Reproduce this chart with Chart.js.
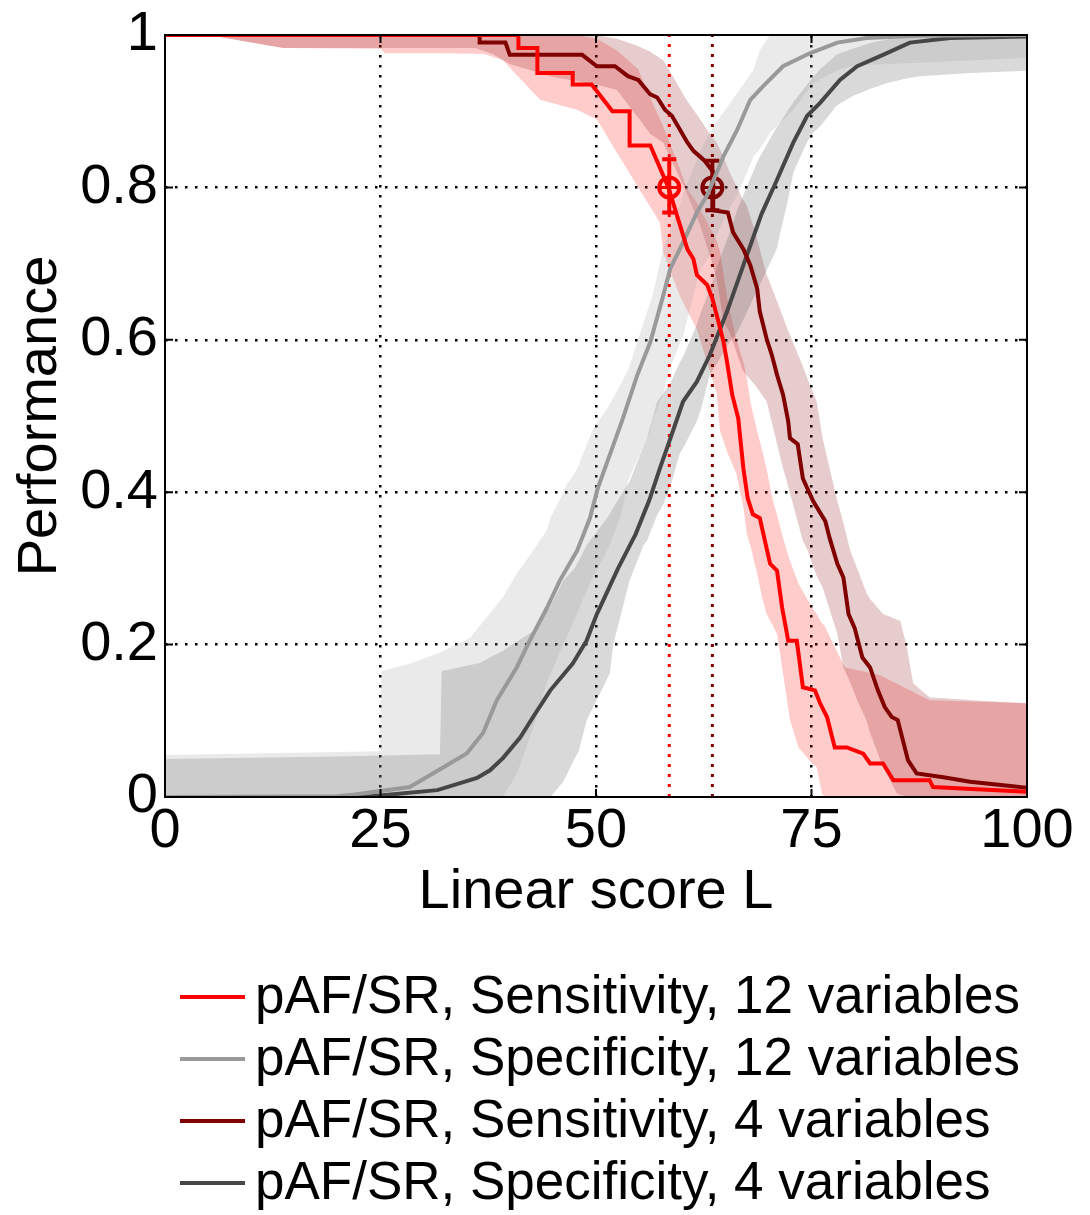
<!DOCTYPE html>
<html>
<head>
<meta charset="utf-8">
<script src="https://cdn.jsdelivr.net/npm/chart.js@4.4.0/dist/chart.umd.min.js"></script>
<style>
    html, body { margin: 0; padding: 0; background: #fff; }
</style>
</head>
<body>
<canvas id="graficoDesempenho" width="1090" height="1215"></canvas>
<script>
const xTicks = [0, 25, 50, 75, 100]
const xTickLabels = ['0', '25', '50', '75', '100']
const yTicks = [0, 0.2, 0.4, 0.6, 0.8, 1]
const yTickLabels = ['0', '0.2', '0.4', '0.6', '0.8', '1']

const legendas = [
    'pAF/SR, Sensitivity, 12 variables',
    'pAF/SR, Specificity, 12 variables',
    'pAF/SR, Sensitivity, 4 variables',
    'pAF/SR, Specificity, 4 variables'
]

// curvas [L, desempenho]
const sens12 = [[0,1],[41,1],[41,0.983],[43.2,0.983],[43.2,0.95],[47.3,0.95],[47.3,0.935],[49.5,0.935],[51.9,0.9],[53.9,0.9],[53.9,0.855],[56.3,0.855],[58.4,0.80],[59.4,0.763],[60.6,0.719],[61.3,0.706],[61.7,0.685],[62.9,0.672],[63.5,0.654],[64.2,0.624],[64.8,0.597],[65.2,0.571],[65.8,0.528],[66.5,0.497],[67.1,0.431],[67.6,0.392],[68.2,0.371],[69.0,0.366],[70.2,0.306],[71.0,0.297],[71.6,0.248],[72.3,0.205],[73.3,0.205],[74.0,0.144],[75.4,0.140],[76.0,0.123],[76.8,0.105],[77.7,0.065],[79.1,0.065],[81.0,0.057],[81.8,0.044],[83.3,0.044],[84.5,0.022],[88.7,0.022],[89.1,0.013],[100,0.007]]
const spec12 = [[0,0],[20,0.001],[21.8,0.003],[28.4,0.013],[32.3,0.039],[35.0,0.057],[36.9,0.084],[38.5,0.127],[40.8,0.170],[42.3,0.205],[44.3,0.248],[45.8,0.284],[47.8,0.323],[49.3,0.366],[50.2,0.405],[53.0,0.493],[54.8,0.554],[56.3,0.597],[57.8,0.658],[58.6,0.693],[60.1,0.728],[61.7,0.767],[62.9,0.79],[64.8,0.841],[66.4,0.876],[67.9,0.915],[69.4,0.933],[71.7,0.959],[74.8,0.976],[78.0,0.99],[81.4,0.996],[87.2,0.999],[100,1]]
const sens4 = [[0,1],[36.5,1],[36.5,0.99],[39.5,0.99],[40,0.974],[48.4,0.974],[50.1,0.959],[52.2,0.959],[53.7,0.946],[54.9,0.941],[56.3,0.922],[57.1,0.918],[58.0,0.902],[58.8,0.894],[60.6,0.859],[61.3,0.848],[62.6,0.835],[63.6,0.82],[63.6,0.770],[65.3,0.767],[65.9,0.741],[67.1,0.719],[67.9,0.698],[68.7,0.667],[69.0,0.637],[69.8,0.601],[70.4,0.580],[71.0,0.554],[71.7,0.528],[72.3,0.493],[72.5,0.471],[73.4,0.463],[74.0,0.418],[75.2,0.388],[76.6,0.362],[77.1,0.340],[78.0,0.306],[78.7,0.288],[79.3,0.240],[80.0,0.222],[80.9,0.183],[81.8,0.170],[82.7,0.140],[83.5,0.118],[84.3,0.105],[85.0,0.101],[86.2,0.048],[87.2,0.031],[90.3,0.026],[93.4,0.020],[100,0.012]]
const spec4 = [[0,0],[23,0],[31.6,0.009],[36.2,0.025],[37.7,0.035],[39.2,0.051],[41.2,0.078],[42.7,0.105],[44.7,0.14],[47.3,0.175],[48.9,0.205],[50.1,0.240],[52.6,0.301],[54.6,0.345],[56.2,0.39],[57.4,0.431],[58.4,0.463],[60.1,0.519],[61.7,0.545],[63.2,0.58],[65.2,0.637],[67.1,0.698],[69.2,0.765],[71.0,0.81],[72.9,0.859],[74.5,0.894],[76.0,0.911],[78.3,0.941],[80.3,0.959],[83.3,0.974],[86.4,0.99],[91.1,0.996],[100,0.998]]

// faixas [L, inferior, superior]
const sens12Banda = [[0,1,1],[5,1,1],[13.7,0.983,1],[25,0.982,1],[25.5,0.976,1],[32.3,0.976,1],[37,0.975,1],[39.2,0.967,1],[43.5,0.915,1],[47.8,0.902,1],[50.1,0.889,0.995],[52.4,0.846,0.98],[54.9,0.8,0.955],[56,0.78,0.925],[57.4,0.754,0.89],[57.8,0.715,0.88],[59.7,0.658,0.825],[60.5,0.64,0.8],[61.7,0.614,0.78],[64,0.53,0.73],[64.4,0.48,0.715],[65.3,0.45,0.65],[66.3,0.424,0.6],[67.1,0.38,0.571],[67.5,0.345,0.55],[67.9,0.33,0.519],[68.7,0.293,0.48],[69.3,0.26,0.454],[69.8,0.24,0.43],[70.5,0.225,0.39],[71,0.214,0.37],[71.7,0.162,0.34],[72.5,0.101,0.31],[73.5,0.065,0.28],[75,0.045,0.25],[75.6,0.039,0.24],[76.2,0.005,0.228],[76.5,0,0.225],[78,0,0.19],[78.9,0,0.17],[82.9,0,0.16],[88.7,0,0.127],[100,0,0.123]]
const sens4Banda = [[0,1,1],[5,1,1],[13.7,0.983,1],[36,0.983,1],[38,0.975,1],[40,0.962,1],[45,0.945,1],[50,0.935,1],[52.4,0.928,0.995],[54.3,0.9,0.988],[55,0.89,0.985],[56.3,0.87,0.978],[57.8,0.859,0.967],[60.5,0.793,0.915],[62.1,0.75,0.889],[63.2,0.711,0.87],[64,0.68,0.859],[64.8,0.624,0.84],[65.5,0.61,0.82],[67,0.56,0.785],[67.5,0.553,0.776],[68.5,0.54,0.74],[69.8,0.519,0.685],[70,0.51,0.68],[71.7,0.431,0.63],[72,0.42,0.62],[74,0.336,0.565],[74.5,0.325,0.55],[75.6,0.29,0.519],[76.3,0.275,0.47],[78,0.214,0.388],[78.7,0.17,0.36],[79.5,0.15,0.323],[80.3,0.127,0.3],[81.4,0.1,0.267],[81.8,0.084,0.26],[83.3,0.039,0.24],[84.9,0.005,0.233],[85.3,0.003,0.231],[86,0,0.2],[86.8,0,0.149],[88.7,0,0.131],[93.7,0,0.127],[100,0,0.123]]
const spec12Banda = [[0,0,0.055],[10,0,0.057],[20,0,0.059],[24.9,0,0.06],[25.1,0,0.165],[28.4,0,0.175],[32,0,0.19],[35.4,0,0.209],[38.9,0,0.258],[39.2,0,0.262],[40.8,0.03,0.293],[42.7,0.09,0.323],[44.3,0.15,0.35],[44.7,0.16,0.366],[45.8,0.19,0.39],[46.6,0.21,0.41],[47.8,0.24,0.43],[48.5,0.26,0.45],[49.7,0.29,0.484],[51.3,0.323,0.51],[52.8,0.366,0.54],[53.7,0.414,0.56],[54.3,0.43,0.58],[56.3,0.48,0.65],[56.5,0.493,0.655],[57.8,0.53,0.72],[58.3,0.554,0.735],[59.8,0.597,0.78],[60,0.6,0.79],[61.3,0.658,0.825],[62,0.69,0.845],[63.2,0.71,0.872],[63.6,0.728,0.88],[65.2,0.767,0.905],[66.4,0.79,0.924],[68.3,0.841,0.955],[69,0.85,0.98],[69.9,0.866,0.995],[70.2,0.872,1],[72.9,0.902,1],[75.2,0.937,1],[78.3,0.955,1],[80,0.96,1],[90,0.965,1],[100,0.97,1]]
const spec4Banda = [[0,0,0.05],[20,0,0.053],[31.9,0,0.056],[32.1,0,0.165],[36.5,0,0.176],[39.2,0,0.192],[42.7,0,0.218],[44.7,0,0.25],[46.2,0.02,0.284],[47.5,0.05,0.3],[48,0.06,0.31],[48.9,0.1,0.33],[51.6,0.162,0.371],[52,0.2,0.38],[53.9,0.284,0.414],[55.5,0.33,0.46],[55.9,0.336,0.47],[57.1,0.37,0.519],[57.8,0.384,0.53],[58.7,0.41,0.545],[59.7,0.45,0.57],[60.2,0.46,0.58],[61.7,0.493,0.62],[62.2,0.51,0.637],[63.2,0.554,0.665],[64.1,0.57,0.698],[65.5,0.597,0.74],[66.4,0.61,0.771],[68.7,0.665,0.833],[69,0.672,0.84],[71,0.72,0.88],[71.3,0.737,0.884],[72.2,0.78,0.9],[72.9,0.82,0.912],[74.5,0.86,0.935],[75.2,0.872,0.945],[76,0.88,0.955],[77.9,0.907,0.974],[78.3,0.91,0.976],[79.8,0.92,0.982],[82,0.93,0.99],[83.8,0.937,0.994],[86,0.943,0.998],[87.6,0.946,1],[93.4,0.95,1],[100,0.953,1]]

// pontos de operacao (sensibilidade 0.8) com barras de erro
const pontoL = [58.5, 63.5]
const pontoY = [0.8, 0.8]
const pontoErroMin = [0.767, 0.770]
const pontoErroMax = [0.837, 0.835]

const corVermelho = '#ff0000'
const corCinza = '#999999'
const corVinho = '#800000'
const corCinzaEscuro = '#464646'
const coresLinhas = [corVermelho, corCinza, corVinho, corCinzaEscuro]

const fonte = '"Liberation Sans", Arial, sans-serif'

function pontos(lista, col) {
    return lista.map(function (p) { return { x: p[0], y: p[col] } })
}

function curva(lista, cor) {
    return {
        data: pontos(lista, 1),
        borderColor: cor,
        borderWidth: 4,
        pointRadius: 0,
        fill: false,
        order: 0
    }
}

function banda(lista, cor) {
    return [
        { data: pontos(lista, 1), borderWidth: 0, borderColor: 'rgba(0,0,0,0)', pointRadius: 0, fill: false, order: 2 },
        { data: pontos(lista, 2), borderWidth: 0, borderColor: 'rgba(0,0,0,0)', pointRadius: 0, fill: '-1', backgroundColor: cor, order: 2 }
    ]
}

let datasets = [
    curva(sens12, corVermelho),
    curva(spec12, corCinza),
    curva(sens4, corVinho),
    curva(spec4, corCinzaEscuro)
]
datasets = datasets.concat(banda(spec12Banda, 'rgba(150,150,150,0.2)'))
datasets = datasets.concat(banda(spec4Banda, 'rgba(64,64,64,0.2)'))
datasets = datasets.concat(banda(sens4Banda, 'rgba(128,0,0,0.2)'))
datasets = datasets.concat(banda(sens12Banda, 'rgba(255,0,0,0.2)'))

const coresPonto = [corVermelho, corVinho]
for (let i = 0; i < pontoL.length; i++) {
    // linha pontilhada vertical
    datasets.push({
        data: [{ x: pontoL[i], y: 0 }, { x: pontoL[i], y: 1 }],
        borderColor: coresPonto[i], borderWidth: 3, borderDash: [3, 7],
        pointRadius: 0, fill: false, order: 1
    })
    // barra de erro
    datasets.push({
        data: [{ x: pontoL[i], y: pontoErroMin[i] }, { x: pontoL[i], y: pontoErroMax[i] }],
        borderColor: coresPonto[i], borderWidth: 4,
        pointStyle: 'line', pointRadius: 7, pointBorderWidth: 4, pointBorderColor: coresPonto[i],
        fill: false, order: 0
    })
    // circulo com cruz
    datasets.push({
        data: [{ x: pontoL[i], y: pontoY[i] }],
        showLine: false, pointStyle: 'circle', pointRadius: 10, pointBorderWidth: 4,
        pointBorderColor: coresPonto[i], pointBackgroundColor: 'rgba(0,0,0,0)', order: 0
    })
    datasets.push({
        data: [{ x: pontoL[i], y: pontoY[i] }],
        showLine: false, pointStyle: 'cross', pointRadius: 10, pointBorderWidth: 3,
        pointBorderColor: coresPonto[i], order: 0
    })
}

// moldura preta com marcas de escala para dentro
const moldura = {
    id: 'moldura',
    afterDatasetsDraw(chart) {
        const ctx = chart.ctx
        const a = chart.chartArea
        const sx = chart.scales.x
        const sy = chart.scales.y
        ctx.save()
        ctx.strokeStyle = '#000'
        ctx.lineWidth = 2
        ctx.strokeRect(a.left, a.top, a.right - a.left, a.bottom - a.top)
        ctx.beginPath()
        xTicks.forEach(function (v) {
            const px = sx.getPixelForValue(v)
            ctx.moveTo(px, a.bottom); ctx.lineTo(px, a.bottom - 8)
            ctx.moveTo(px, a.top); ctx.lineTo(px, a.top + 8)
        })
        yTicks.forEach(function (v) {
            const py = sy.getPixelForValue(v)
            ctx.moveTo(a.left, py); ctx.lineTo(a.left + 8, py)
            ctx.moveTo(a.right, py); ctx.lineTo(a.right - 8, py)
        })
        ctx.stroke()
        ctx.restore()
    }
}

// legenda em coluna
const legendaColuna = {
    id: 'legendaColuna',
    afterDraw(chart) {
        const ctx = chart.ctx
        ctx.save()
        ctx.font = '53px ' + fonte
        ctx.textBaseline = 'middle'
        ctx.textAlign = 'left'
        for (let i = 0; i < legendas.length; i++) {
            const y = 997 + i * 62
            ctx.strokeStyle = coresLinhas[i]
            ctx.lineWidth = 4
            ctx.beginPath()
            ctx.moveTo(180, y)
            ctx.lineTo(245, y)
            ctx.stroke()
            ctx.fillStyle = '#000'
            ctx.fillText(legendas[i], 255, y + 1)
        }
        ctx.restore()
    }
}

function corGrade(lista) {
    return function (c) {
        if (!c.tick) return 'rgba(0,0,0,0)'
        const v = c.tick.value
        if (v === lista[0] || v === lista[lista.length - 1]) return 'rgba(0,0,0,0)'
        return '#000'
    }
}

new Chart(document.getElementById('graficoDesempenho'), {
    type: 'line',
    data: { datasets: datasets },
    options: {
        responsive: false,
        animation: false,
        events: [],
        devicePixelRatio: 1,
        layout: { padding: { top: 32, right: 63, bottom: 289, left: 0 } },
        plugins: {
            legend: { display: false },
            tooltip: { enabled: false }
        },
        scales: {
            x: {
                type: 'linear',
                min: 0,
                max: 100,
                afterBuildTicks: function (s) { s.ticks = xTicks.map(function (v) { return { value: v } }) },
                afterFit: function (s) { s.height = 129 },
                ticks: {
                    color: '#000', font: { size: 56, family: fonte, lineHeight: 1 }, padding: 7, maxRotation: 0, autoSkip: false,
                    callback: function (v, i) { return xTickLabels[i] }
                },
                grid: { color: corGrade(xTicks), lineWidth: 2.5, drawTicks: false },
                border: { display: false, dash: [2.5, 7.5] },
                title: { display: true, text: 'Linear score L', color: '#000', font: { size: 56, family: fonte }, padding: { top: 0, bottom: 0 } }
            },
            y: {
                type: 'linear',
                min: 0,
                max: 1,
                afterBuildTicks: function (s) { s.ticks = yTicks.map(function (v) { return { value: v } }) },
                afterFit: function (s) { s.width = 165 },
                ticks: {
                    color: '#000', font: { size: 56, family: fonte, lineHeight: 1 }, padding: 7,
                    callback: function (v, i) { return yTickLabels[i] }
                },
                grid: { color: corGrade(yTicks), lineWidth: 2.5, drawTicks: false },
                border: { display: false, dash: [2.5, 7.5] },
                title: { display: true, text: 'Performance', color: '#000', font: { size: 56, family: fonte }, padding: { top: 7, bottom: 0 } }
            }
        }
    },
    plugins: [moldura, legendaColuna]
})
</script>
</body>
</html>
